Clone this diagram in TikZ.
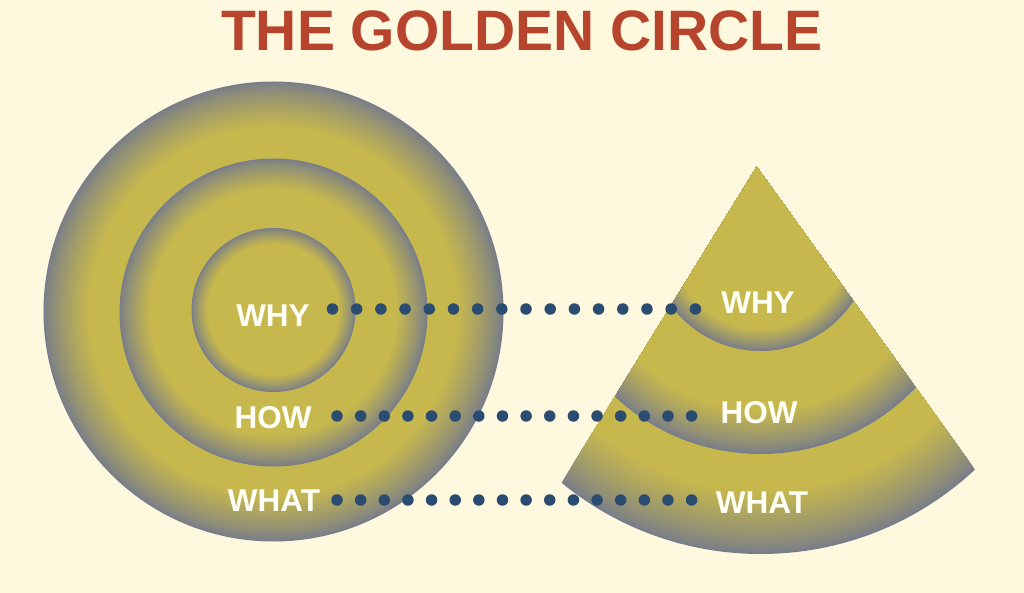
\documentclass[tikz,border=0pt]{standalone}
\usepackage{fontspec}
\setmainfont{Liberation Sans}
\definecolor{bg}{RGB}{253,248,222}
\definecolor{gold}{RGB}{199,184,78}
\definecolor{edgegray}{RGB}{120,125,138}
\definecolor{titlered}{RGB}{183,68,45}
\definecolor{dotblue}{RGB}{42,76,112}
\definecolor{lbltext}{RGB}{255,255,246}
% disk with a gold centre fading to grey at its rim: centre x, centre y, radius
\newcommand\ringdisk[3]{%
  \foreach \k in {0,...,36}{%
    \pgfmathsetmacro\rr{#3*(1-0.2*\k/36)}%
    \pgfmathsetmacro\pp{100*(\k/36)^0.8}%
    \fill[gold!\pp!edgegray] (#1,#2) circle[radius=\rr pt];
  }%
}
\begin{document}
\begin{tikzpicture}[x=1pt,y=-1pt,
  lbl/.style={font=\bfseries\fontsize{31.5}{36}\selectfont, text=lbltext, inner sep=0pt, anchor=center},
  dotline/.style={line width=11.5pt, line cap=round, draw=dotblue}]
\path[fill=bg, use as bounding box] (0,0) rectangle (1024,593);
% title
\node[font=\bfseries\fontsize{57}{64}\selectfont, text=titlered, inner sep=0pt] (title) at (522,31) {THE GOLDEN CIRCLE};
% golden circle
\ringdisk{273.5}{311.5}{230}
\ringdisk{273.5}{312.5}{154}
\ringdisk{273.5}{310}{82}
% cone
\begin{scope}
  \clip (756.7,166.7) -- (503,578) -- (1040,560) -- cycle;
  \ringdisk{760.7}{240}{314}
  \ringdisk{760.7}{240}{214}
  \ringdisk{760.7}{240}{111}
\end{scope}
% dotted connectors
\coordinate (whyA) at (332.5,309);
\coordinate (whyB) at (695.5,309);
\coordinate (howA) at (337,416);
\coordinate (howB) at (691.7,416);
\coordinate (whatA) at (337,500);
\coordinate (whatB) at (691.7,500);
\draw[dotline, dash pattern=on 0pt off 24.19pt] (whyA) -- (whyB);
\draw[dotline, dash pattern=on 0pt off 23.64pt] (howA) -- (howB);
\draw[dotline, dash pattern=on 0pt off 23.64pt] (whatA) -- (whatB);
% labels
\node[lbl] (lwhy) at (273,316) {WHY};
\node[lbl] (lhow) at (273,418) {HOW};
\node[lbl] (lwhat) at (274,501) {WHAT};
\node[lbl] (rwhy) at (758,303) {WHY};
\node[lbl] (rhow) at (759,413) {HOW};
\node[lbl] (rwhat) at (762,503) {WHAT};
\end{tikzpicture}
\end{document}
